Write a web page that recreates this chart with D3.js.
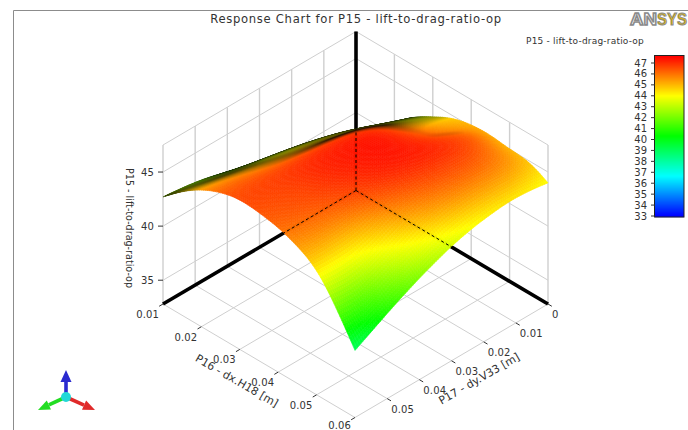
<!DOCTYPE html>
<html><head><meta charset="utf-8">
<style>html,body{margin:0;padding:0;background:#fff;overflow:hidden}svg{display:block}text{font-family:"DejaVu Sans",sans-serif;fill:#333}</style>
<script src="https://cdn.jsdelivr.net/npm/d3@7"></script>
</head><body><svg id="c" width="688" height="430"></svg>
<script>
const chartTitle = "Response Chart for P15 - lift-to-drag-ratio-op";
const zName = "P15 - lift-to-drag-ratio-op";
const xName = "P16 - dx.H18  [m]";
const yName = "P17 - dy.V33  [m]";
const xTicks = [0.01,0.02,0.03,0.04,0.05,0.06];
const yTicks = [0,0.01,0.02,0.03,0.04,0.05,0.06];
const zTicks = [35,40,45];
const legendTicks = [33,34,35,36,37,38,39,40,41,42,43,44,45,46,47];
const legendColors = ["#0000ff","#00ffff","#00ff00","#ffff00","#ff0000"];
const legendStops = [33,36.66,40.33,44,47.65];
// response surface: rows are P16 (0.01 .. 0.06 by 0.005), columns are P17 (0 .. 0.06 by 0.006)
const gridX = [0.01,0.015,0.02,0.025,0.03,0.035,0.04,0.045,0.05,0.055,0.06];
const gridY = [0,0.006,0.012,0.018,0.024,0.03,0.036,0.042,0.048,0.054,0.06];
const gridZ = [
 [37.5,38.2,38.8,39.4,40.0,40.6,41.2,41.7,42.2,42.5,42.7],
 [39.5,40.3,41.0,41.7,42.3,42.7,43.0,43.2,43.5,43.9,44.3],
 [41.2,42.0,42.8,43.4,43.8,44.1,44.3,44.7,45.1,45.4,45.5],
 [42.8,43.4,44.0,44.6,45.0,45.4,45.7,45.9,46.1,46.3,46.3],
 [43.8,44.4,45.2,46.2,46.9,47.1,47.1,47.0,46.9,46.8,46.7],
 [44.8,45.2,45.8,46.8,47.4,47.4,47.3,47.1,46.7,46.6,46.5],
 [45.2,45.6,46.2,47.0,47.4,47.4,47.2,46.9,46.6,46.4,46.2],
 [45.3,46.4,47.0,47.3,47.3,47.2,46.9,46.4,46.0,45.8,45.5],
 [45.0,46.0,46.6,46.7,46.6,46.3,45.8,45.0,44.3,44.4,44.5],
 [45.0,45.6,45.8,45.8,45.6,45.2,44.5,43.6,42.6,41.5,42.0],
 [44.0,44.3,44.4,44.2,43.9,43.4,42.7,41.9,41.0,40.0,39.0]
];
const svg = d3.select("#c");
const su = d3.scaleLinear().domain([0.01,0.06]).range([0,1]);
const sv = d3.scaleLinear().domain([0,0.06]).range([0,1]);
const sz = d3.scaleLinear().domain([32.8,47.5]).range([0,159]);
const colorScale = d3.scaleLinear().domain(legendStops).range(legendColors).clamp(true);
const P = (x,y,z)=>{const u=su(x),v=sv(y);return [356+192*u-193*v,190.5+113.5*u+113.5*v-sz(z)];};
const zLo=32.8,zHi=47.5,xLo=0.01,xHi=0.06,yLo=0,yHi=0.06;
const G = svg.append("g");
const seg=(g,a,b,col,w,dash)=>g.append("line").attr("x1",a[0]).attr("y1",a[1]).attr("x2",b[0]).attr("y2",b[1]).attr("stroke",col).attr("stroke-width",w).attr("stroke-dasharray",dash||null);
svg.append("path").attr("d","M13.5,430V10.5H688").attr("fill","none").attr("stroke","#8c8c8c").attr("stroke-width",1);
const gc="#cfcfcf";
xTicks.forEach(x=>{seg(G,P(x,yLo,zLo),P(x,yHi,zLo),gc,1);});
yTicks.forEach(y=>{seg(G,P(xLo,y,zLo),P(xHi,y,zLo),gc,1);});
xTicks.forEach(x=>{seg(G,P(x,yLo,zLo),P(x,yLo,zHi),gc,1.4);});
yTicks.forEach(y=>{seg(G,P(xLo,y,zLo),P(xLo,y,zHi),gc,1.4);});
[...zTicks,zHi].forEach(z=>{seg(G,P(xLo,yHi,z),P(xLo,yLo,z),gc,1);seg(G,P(xLo,yLo,z),P(xHi,yLo,z),gc,1);});
seg(G,P(xLo,yLo,zLo),P(xLo,yLo,zHi),"#000",3.6);
seg(G,P(xLo,yLo,zLo),P(xLo,yHi,zLo),"#000",3.6);
seg(G,P(xLo,yLo,zLo),P(xHi,yLo,zLo),"#000",3.6);
const lab=(x,y,t,anchor,size)=>G.append("text").attr("x",x).attr("y",y).attr("text-anchor",anchor||"middle").attr("font-size",size||10).attr("letter-spacing",0.15).text(t);
xTicks.forEach(x=>{const a=P(x,yHi,zLo),b=P(x,yHi+0.0012,zLo);seg(G,a,b,"#333",1);lab(a[0]-4,x===0.06?428.5:a[1]+14,d3.format(".2f")(x),"end");});
yTicks.slice(0,-1).forEach(y=>{const a=P(xHi,y,zLo),b=P(xHi+0.001,y,zLo);seg(G,a,b,"#333",1);lab(a[0]+4,a[1]+14,y===0?"0":d3.format(".2f")(y),"start");});
zTicks.forEach(z=>{const a=P(xLo,yHi,z);seg(G,[a[0]-5,a[1]],a,"#333",1);lab(a[0]-9,a[1]+3.5,String(z),"end",10);});
const n=gridZ.length,m=gridZ[0].length;
const bs=(a,b,c,d,t)=>{const t2=t*t,t3=t2*t;return ((1-3*t+3*t2-t3)*a+(4-6*t2+3*t3)*b+(1+3*t+3*t2-3*t3)*c+t3*d)/6;};
const row=(i)=>i<0?gridZ[0].map((d,k)=>2*d-gridZ[1][k]):i>=n?gridZ[n-1].map((d,k)=>2*d-gridZ[n-2][k]):gridZ[i];
const at=(i,j)=>{const r=row(i);return j<0?2*r[0]-r[1]:j>=m?2*r[m-1]-r[m-2]:r[j];};
function surf(fu,fv){
 const U=fu*(n-1),V=fv*(m-1);const i=Math.min(n-2,Math.floor(U)),j=Math.min(m-2,Math.floor(V));const tu=U-i,tv=V-j;
 const r=[-1,0,1,2].map(k=>bs(at(i+k,j-1),at(i+k,j),at(i+k,j+1),at(i+k,j+2),tv));
 return bs(r[0],r[1],r[2],r[3],tu);
}
const N=100,q=[];
const X=d3.scaleLinear().domain([0,N]).range([xLo,xHi]),Y=d3.scaleLinear().domain([0,N]).range([yLo,yHi]);
const kz=159/14.7, view=227/kz;
const vals=d3.range(N+1).map(a=>d3.range(N+1).map(b=>surf(a/N,b/N)));
for(let a=0;a<N;a++)for(let b=0;b<N;b++){
 const z00=vals[a][b],z10=vals[a+1][b],z01=vals[a][b+1],z11=vals[a+1][b+1];
 const fu=((z10-z00)+(z11-z01))/2*N,fv=((z01-z00)+(z11-z10))/2*N;
 const s=1-(fu+fv)/view;
 if(s<=0)continue;
 const zm=(z00+z10+z01+z11)/4;
 const br=Math.max(0.2,Math.min(1,s/0.45));
 const c=d3.rgb(colorScale(zm));
 const col=d3.rgb(c.r*br,c.g*br,c.b*br).formatRgb();
 q.push({o:a+b,col,pts:[P(X(a),Y(b),z00),P(X(a+1),Y(b),z10),P(X(a+1),Y(b+1),z11),P(X(a),Y(b+1),z01)]});
}
q.sort((p,r)=>p.o-r.o);
const poly=d3.line().curve(d3.curveLinearClosed);
G.append("g").selectAll("path").data(q).join("path").attr("d",d=>poly(d.pts)).attr("fill",d=>d.col).attr("stroke",d=>d.col).attr("stroke-width",0.6);
const hidZ=39.2,hidY=0.0375,hidX=0.035;
seg(G,P(xLo,yLo,zLo),P(xLo,yLo,hidZ),"#000",1,"3,2.5");
seg(G,P(xLo,yLo,zLo),P(xLo,hidY,zLo),"#000",1,"3,2.5");
seg(G,P(xLo,yLo,zLo),P(hidX,yLo,zLo),"#000",1,"3,2.5");
svg.append("text").attr("x",356).attr("y",23).attr("text-anchor","middle").attr("font-size",11.6).attr("letter-spacing",0.7).text(chartTitle);
svg.append("text").attr("transform","translate(126,228) rotate(90)").attr("text-anchor","middle").attr("font-size",9.6).text(zName);
svg.append("text").attr("transform","translate(235,384) rotate(30)").attr("text-anchor","middle").attr("font-size",11).text(xName);
svg.append("text").attr("transform","translate(481,382) rotate(-30)").attr("text-anchor","middle").attr("font-size",11).text(yName);
const ly=d3.scaleLinear().domain([33,47]).range([216,63]);
const legTop=56,legBot=217,lx=655,lw=29;
const lcells=d3.range(legBot,legTop,-1);
svg.append("g").selectAll("rect").data(lcells).join("rect").attr("x",lx).attr("y",d=>d-1).attr("width",lw).attr("height",1.2).attr("fill",d=>colorScale(ly.invert(d-0.5)));
svg.append("rect").attr("x",lx-0.5).attr("y",legTop-0.5).attr("width",lw+0.5).attr("height",legBot-legTop+0.5).attr("fill","none").attr("stroke","#222").attr("stroke-width",1);
legendTicks.forEach(t=>{seg(svg,[lx-4,ly(t)],[lx,ly(t)],"#333",1);
 svg.append("text").attr("x",lx-8).attr("y",ly(t)+3.5).attr("text-anchor","end").attr("font-size",10).text(t);});
svg.append("text").attr("x",585).attr("y",44).attr("text-anchor","middle").attr("font-size",9).attr("letter-spacing",0.2).text(zName);
const logo=svg.append("g").attr("font-weight",700).attr("font-size",16);
logo.append("text").attr("x",630).attr("y",25).attr("textLength",27).attr("lengthAdjust","spacingAndGlyphs").style("font-family","'Liberation Sans',sans-serif").style("fill","#fff").attr("stroke","#8a8a8a").attr("stroke-width",1.4).text("AN");
logo.append("text").attr("x",657).attr("y",25).attr("textLength",30).attr("lengthAdjust","spacingAndGlyphs").style("font-family","'Liberation Sans',sans-serif").style("fill","#d9b310").attr("stroke","#8a8a8a").attr("stroke-width",0.9).text("SYS");
const tri=svg.append("g");
const arrow=(x2,y2,col,hw)=>{const x1=66,y1=397,dx=x2-x1,dy=y2-y1,L=Math.hypot(dx,dy),ux=dx/L,uy=dy/L,bx=x2-ux*12,by=y2-uy*12;
 tri.append("line").attr("x1",x1).attr("y1",y1).attr("x2",bx).attr("y2",by).attr("stroke",col).attr("stroke-width",3.6);
 tri.append("path").attr("d",`M${x2},${y2}L${bx-uy*hw},${by+ux*hw}L${bx+uy*hw},${by-ux*hw}Z`).attr("fill",col);};
arrow(66,370,"#2a2acf",5.5);arrow(38,410,"#22dd22",5);arrow(95,410,"#e02a2a",5);
tri.append("circle").attr("cx",66).attr("cy",397).attr("r",5).attr("fill","#22d8d8");
</script></body></html>
